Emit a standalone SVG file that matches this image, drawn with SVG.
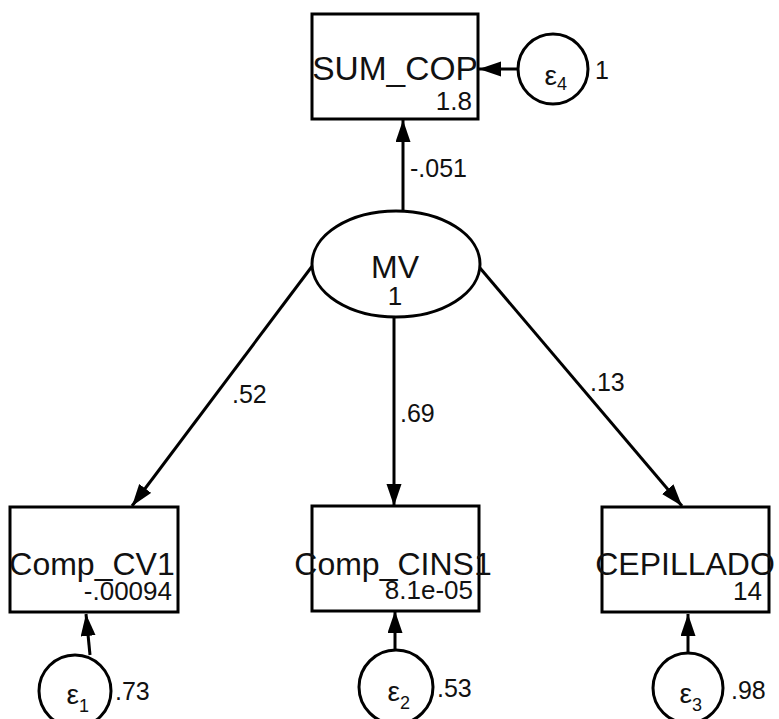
<svg xmlns="http://www.w3.org/2000/svg" width="779" height="719" viewBox="0 0 779 719">
<defs>
<marker id="ah" markerUnits="userSpaceOnUse" markerWidth="24" markerHeight="16" refX="22" refY="7.5" orient="auto" viewBox="0 0 24 16">
<path d="M0,0 L22,7.5 L0,15 z" fill="#000"/>
</marker>
</defs>
<style>
.box{fill:#fff;stroke:#000;stroke-width:3}
.lat{fill:#fff;stroke:#000;stroke-width:3}
.conn line{stroke:#000;stroke-width:3;marker-end:url(#ah)}
text{font-family:"Liberation Sans",Arial,Helvetica,sans-serif;fill:#111}
.lbl{font-size:32px;text-anchor:middle}
.val{font-size:26px;text-anchor:end}
.coef{font-size:25px}
.eps{font-size:28px;text-anchor:end}
.sub{font-size:18px}
</style>
<rect width="779" height="719" fill="#fff"/>
<g id="connectors" class="conn">
<line x1="403" y1="210" x2="403" y2="120"/>
<line x1="518" y1="69" x2="479" y2="69"/>
<line x1="313" y1="265" x2="132" y2="506"/>
<line x1="394" y1="318" x2="394" y2="506"/>
<line x1="480" y1="268" x2="682" y2="506"/>
<line x1="90" y1="655" x2="86" y2="614"/>
<line x1="395" y1="650" x2="395" y2="611"/>
<line x1="688" y1="653" x2="688" y2="614"/>
</g>
<g id="coef-labels">
<text class="coef" x="410" y="177">-.051</text>
<text class="coef" x="232" y="403">.52</text>
<text class="coef" x="400" y="422">.69</text>
<text class="coef" x="590" y="391">.13</text>
</g>
<g id="SUM_COP">
<rect class="box" x="312" y="14" width="166" height="105"/>
<text class="lbl" x="395" y="80" style="font-size:33.5px">SUM_COP</text>
<text class="val" x="472" y="110">1.8</text>
</g>
<g id="e4">
<circle class="lat" cx="553" cy="69" r="35"/>
<text class="eps" x="557" y="85">ε</text>
<text class="sub" x="557" y="90">4</text>
<text class="coef" x="595" y="79">1</text>
</g>
<g id="MV">
<ellipse class="lat" cx="396" cy="264" rx="84" ry="53"/>
<text class="lbl" x="395" y="278">MV</text>
<text class="val" x="395" y="305" style="text-anchor:middle">1</text>
</g>
<g id="Comp_CV1">
<rect class="box" x="10" y="507" width="168" height="105"/>
<text class="lbl" x="92" y="575">Comp_CV1</text>
<text class="val" x="172" y="600">-.00094</text>
</g>
<g id="Comp_CINS1">
<rect class="box" x="312" y="506" width="167" height="105"/>
<text class="lbl" x="393" y="575">Comp_CINS1</text>
<text class="val" x="473" y="599">8.1e-05</text>
</g>
<g id="CEPILLADO">
<rect class="box" x="602" y="507" width="167" height="105"/>
<text class="lbl" x="685" y="575">CEPILLADO</text>
<text class="val" x="762" y="600">14</text>
</g>
<g id="e1">
<circle class="lat" cx="75" cy="691" r="36"/>
<text class="eps" x="79" y="704">ε</text>
<text class="sub" x="79" y="712">1</text>
<text class="coef" x="115" y="700">.73</text>
</g>
<g id="e2">
<circle class="lat" cx="396" cy="687" r="37"/>
<text class="eps" x="400" y="701">ε</text>
<text class="sub" x="400" y="709">2</text>
<text class="coef" x="437" y="697">.53</text>
</g>
<g id="e3">
<circle class="lat" cx="688" cy="688" r="35"/>
<text class="eps" x="692" y="703">ε</text>
<text class="sub" x="692" y="711">3</text>
<text class="coef" x="731" y="699">.98</text>
</g>
</svg>
